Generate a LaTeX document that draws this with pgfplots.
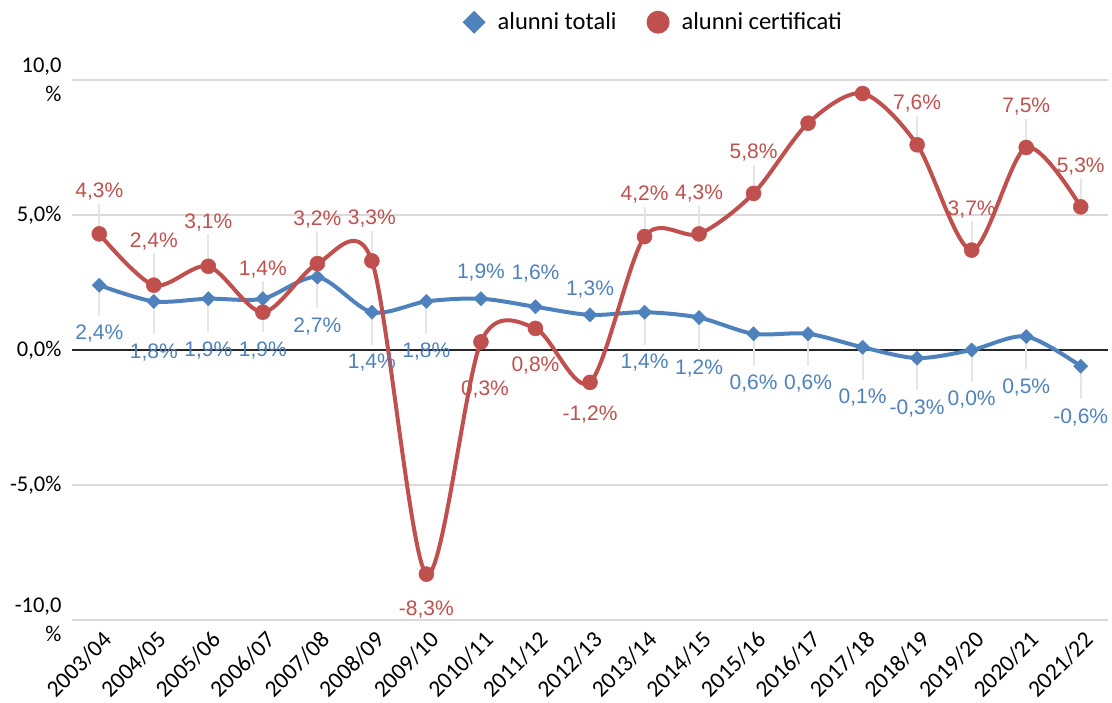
\documentclass[border=0pt]{standalone}
\usepackage{fontspec}
\setmainfont{Carlito}
\newfontfamily\labfont{Liberation Sans}
\usepackage{pgfplots}
\usepackage{pgfplotstable}
\pgfplotsset{compat=1.18}
\definecolor{Tot}{HTML}{4F81BD}
\definecolor{Cert}{HTML}{C0504D}
\definecolor{Grid}{HTML}{D9D9D9}
\definecolor{Lead}{HTML}{E6E6E6}

% x  value  label  label shift (pt)  leader line length (units)
\pgfplotstableread{
x y lbl dx dy ep em
0 2.4 2,4\% 0 -48 0 1.15
1 1.8 1,8\% 0 -51 0 1.2
2 1.9 1,9\% 0 -52 0 1.25
3 1.9 1,9\% 0 -52 0 1.25
4 2.7 2,7\% 0 -49 0 1.15
5 1.4 1,4\% 0 -50 0 1.2
6 1.8 1,8\% 0 -50 0 1.2
7 1.9 1,9\% 0 26 0 0
8 1.6 1,6\% 0 33 0 0
9 1.3 1,3\% 0 25 0 0
10 1.4 1,4\% 0 -50 0 1.2
11 1.2 1,2\% 0 -51 0 1.2
12 0.6 0,6\% 0 -50 0 1.2
13 0.6 0,6\% 0 -50 0 1.2
14 0.1 0,1\% 0 -50 0 1.2
15 -0.3 -0,3\% 0 -50 0 1.2
16 0.0 0,0\% 0 -50 0 1.2
17 0.5 0,5\% 0 -51 0 1.2
18 -0.6 -0,6\% 0 -51 0 1.2
}\totali

\pgfplotstableread{
x y lbl dx dy ep em
0 4.3 4,3\% 0 42 1.11 0
1 2.4 2,4\% 0 44 1.19 0
2 3.1 3,1\% 0 44 1.19 0
3 1.4 1,4\% 0 43 1.15 0
4 3.2 3,2\% 0 44 1.19 0
5 3.3 3,3\% 0 42 1.11 0
6 -8.3 -8,3\% 0 -35 0 0
7 0.3 0,3\% 4 -48 0 0
8 0.8 0,8\% 0 -37 0 0
9 -1.2 -1,2\% 0 -32 0 0
10 4.2 4,2\% 0 42 1.11 0
11 4.3 4,3\% 0 40 1.04 0
12 5.8 5,8\% 0 41 1.07 0
13 8.4 {} 0 0 0 0
14 9.5 {} 0 0 0 0
15 7.6 7,6\% 0 41 1.07 0
16 3.7 3,7\% 0 41 1.07 0
17 7.5 7,5\% 0 41 1.07 0
18 5.3 5,3\% 0 40 1.04 0
}\certificati

\pgfplotsset{
  datalabels/.style={
    nodes near coords,
    point meta=explicit symbolic,
    visualization depends on={\thisrow{dx}\as\dx},
    visualization depends on={\thisrow{dy}\as\dy},
    nodes near coords align={anchor=center},
    every node near coord/.append style={font={\labfont\fontsize{21}{24}\selectfont},
      text=#1, anchor=center, xshift=\dx pt, yshift=\dy pt},
  },
  leaders/.style={
    forget plot, draw=none, mark=none,
    error bars/.cd, y dir=both, y explicit, error mark=none,
    error bar style={draw=Lead, line width=2pt, solid},
  },
}

\begin{document}
\begin{tikzpicture}
\begin{axis}[
  at={(0pt,0pt)}, anchor=south west,
  scale only axis, width=1036pt, height=540pt,
  xmin=-0.5, xmax=18.5, ymin=-10, ymax=10,
  axis line style={draw=none},
  major tick length=0pt,
  xtick={0,...,18},
  xticklabels={2003/04,2004/05,2005/06,2006/07,2007/08,2008/09,2009/10,2010/11,2011/12,2012/13,2013/14,2014/15,2015/16,2016/17,2017/18,2018/19,2019/20,2020/21,2021/22},
  xticklabel style={xshift=2pt, yshift=-5pt, rotate=45, anchor=north east, font={\fontsize{23.5}{28}\selectfont}},
  ytick={-10,-5,0,5,10},
  yticklabels={{-10,0\\\%},{-5,0\%},{0,0\%},{5,0\%},{10,0\\\%}},
  extra y ticks={0},
  extra y tick labels={},
  extra y tick style={grid style={draw=black!85, line width=2pt}},
  yticklabel style={align=right, font={\fontsize{22.5}{29}\selectfont}, xshift=-7pt},
  ymajorgrids, grid style={draw=Grid, line width=2pt},
  clip=false,
  legend style={draw=none, at={(0.561,1.107)}, anchor=center, legend columns=2,
    font={\fontsize{24.5}{28}\selectfont},
    /tikz/every even column/.append style={column sep=28pt}},
]
\addplot[leaders] table[x=x, y=y, y error plus=ep, y error minus=em]{\totali};
\addplot[leaders] table[x=x, y=y, y error plus=ep, y error minus=em]{\certificati};

\addplot[Tot, line width=4pt, smooth, mark=square*, mark size=5pt,
  mark options={rotate=45, line width=0.5pt, solid},
  datalabels=Tot,
  legend image code/.code={\fill[Tot, draw=none] (11.5pt,11.5pt) -- (23pt,0pt) -- (11.5pt,-11.5pt) -- (0pt,0pt) -- cycle; \path[draw=none] (0pt,0pt) -- (33pt,0pt);}]
  table[x=x, y=y, meta=lbl]{\totali};
\addlegendentry{alunni totali}

\addplot[Cert, line width=4pt, smooth, mark=*, mark size=7.5pt,
  mark options={line width=0.5pt, solid},
  datalabels=Cert,
  legend image code/.code={\fill[Cert, draw=none] (11.5pt,0pt) circle[radius=11.5pt]; \path[draw=none] (0pt,0pt) -- (33pt,0pt);}]
  table[x=x, y=y, meta=lbl]{\certificati};
\addlegendentry{alunni certificati}
\end{axis}
\pgfresetboundingbox
\useasboundingbox (-72pt,-83pt) rectangle (1040pt,620pt);
\end{tikzpicture}
\end{document}
